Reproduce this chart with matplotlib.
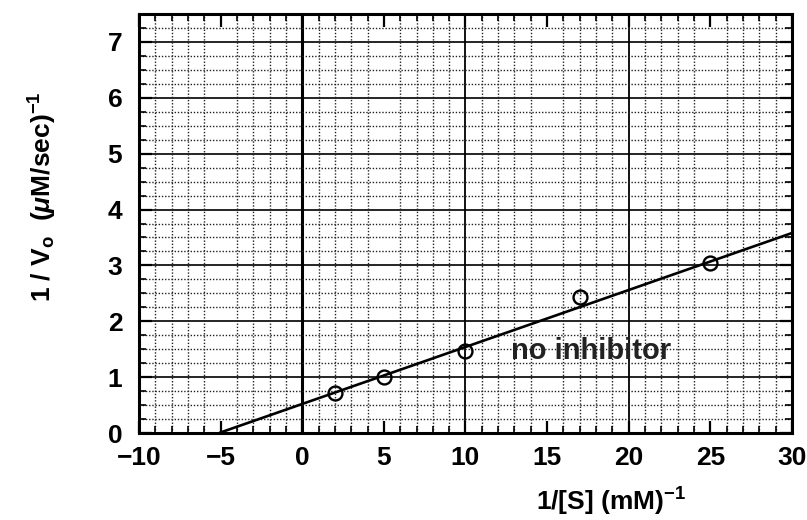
import matplotlib.pyplot as plt
import numpy as np
from matplotlib.ticker import MultipleLocator

# data
inv_s = [2, 5, 10, 17, 25]  # 1/[S] (mM)^-1
inv_v = [0.71, 1.01, 1.47, 2.43, 3.04]  # 1/Vo (uM/sec)^-1

# fitted line: 1/Vo = intercept + slope * 1/[S]
fit_intercept = 0.52
fit_slope = 0.102
fit_x = [-5, 30]

x_ticks = [-10, -5, 0, 5, 10, 15, 20, 25, 30]
y_ticks = [0, 1, 2, 3, 4, 5, 6, 7]
solid_x = [0, 10, 20]

plt.rcParams["font.family"] = ["Liberation Sans", "DejaVu Sans"]
plt.rcParams["font.weight"] = "bold"
plt.rcParams["mathtext.fontset"] = "custom"
plt.rcParams["mathtext.rm"] = "Liberation Sans:bold"
plt.rcParams["mathtext.bf"] = "Liberation Sans:bold"
plt.rcParams["mathtext.it"] = "Liberation Sans:bold:italic"

fig = plt.figure(figsize=(8.07, 5.2), dpi=100)
ax = fig.add_axes([0.1722, 0.1673, 0.8092, 0.8057])

ax.set_xlim(-10, 30)
ax.set_ylim(0, 7.5)

# graph paper grid
ax.xaxis.set_minor_locator(MultipleLocator(1))
ax.yaxis.set_minor_locator(MultipleLocator(0.25))
ax.grid(which="minor", color="#222222", linestyle=(0, (1, 1.3)), linewidth=1.0)
for yv in y_ticks:
    ax.axhline(yv, color="black", linewidth=1.2, zorder=1)
for xv in solid_x:
    ax.axvline(xv, color="black", linewidth=2.2 if xv == 0 else 1.3, zorder=1)

# line and points
fx = np.array(fit_x, dtype=float)
ax.plot(fx, fit_intercept + fit_slope * fx, color="black", linewidth=1.9, zorder=3)
ax.plot(inv_s, inv_v, "o", markersize=10, markerfacecolor="none",
        markeredgecolor="black", markeredgewidth=1.7, zorder=4)

ax.text(12.8, 1.46, "no inhibitor", fontsize=21, fontweight="bold",
        va="center", ha="left", color="#222222", zorder=5)

ax.set_xticks(x_ticks)
ax.set_xticklabels([str(t).replace("-", "\u2212") for t in x_ticks])
ax.set_yticks(y_ticks)
ax.tick_params(which="both", direction="in", top=True, right=True,
               labelsize=19, colors="black")
ax.tick_params(which="major", length=9, width=1.6)
ax.tick_params(which="minor", length=5, width=1.2)
ax.tick_params(axis="x", pad=9)
ax.tick_params(axis="y", pad=12)

for sp in ax.spines.values():
    sp.set_linewidth(2.2)

ax.set_xlabel(r"1/[S] (mM)$^{-1}$", fontsize=19, fontweight="bold")
ax.xaxis.set_label_coords(0.723, -0.125)
ax.set_ylabel(r"1 / V$_{\mathrm{o}}$  ($\mathit{\mu}$M/sec)$^{-1}$", fontsize=19,
              fontweight="bold")
ax.yaxis.set_label_coords(-0.122, 0.563)

fig.savefig("out.png", dpi=100)
